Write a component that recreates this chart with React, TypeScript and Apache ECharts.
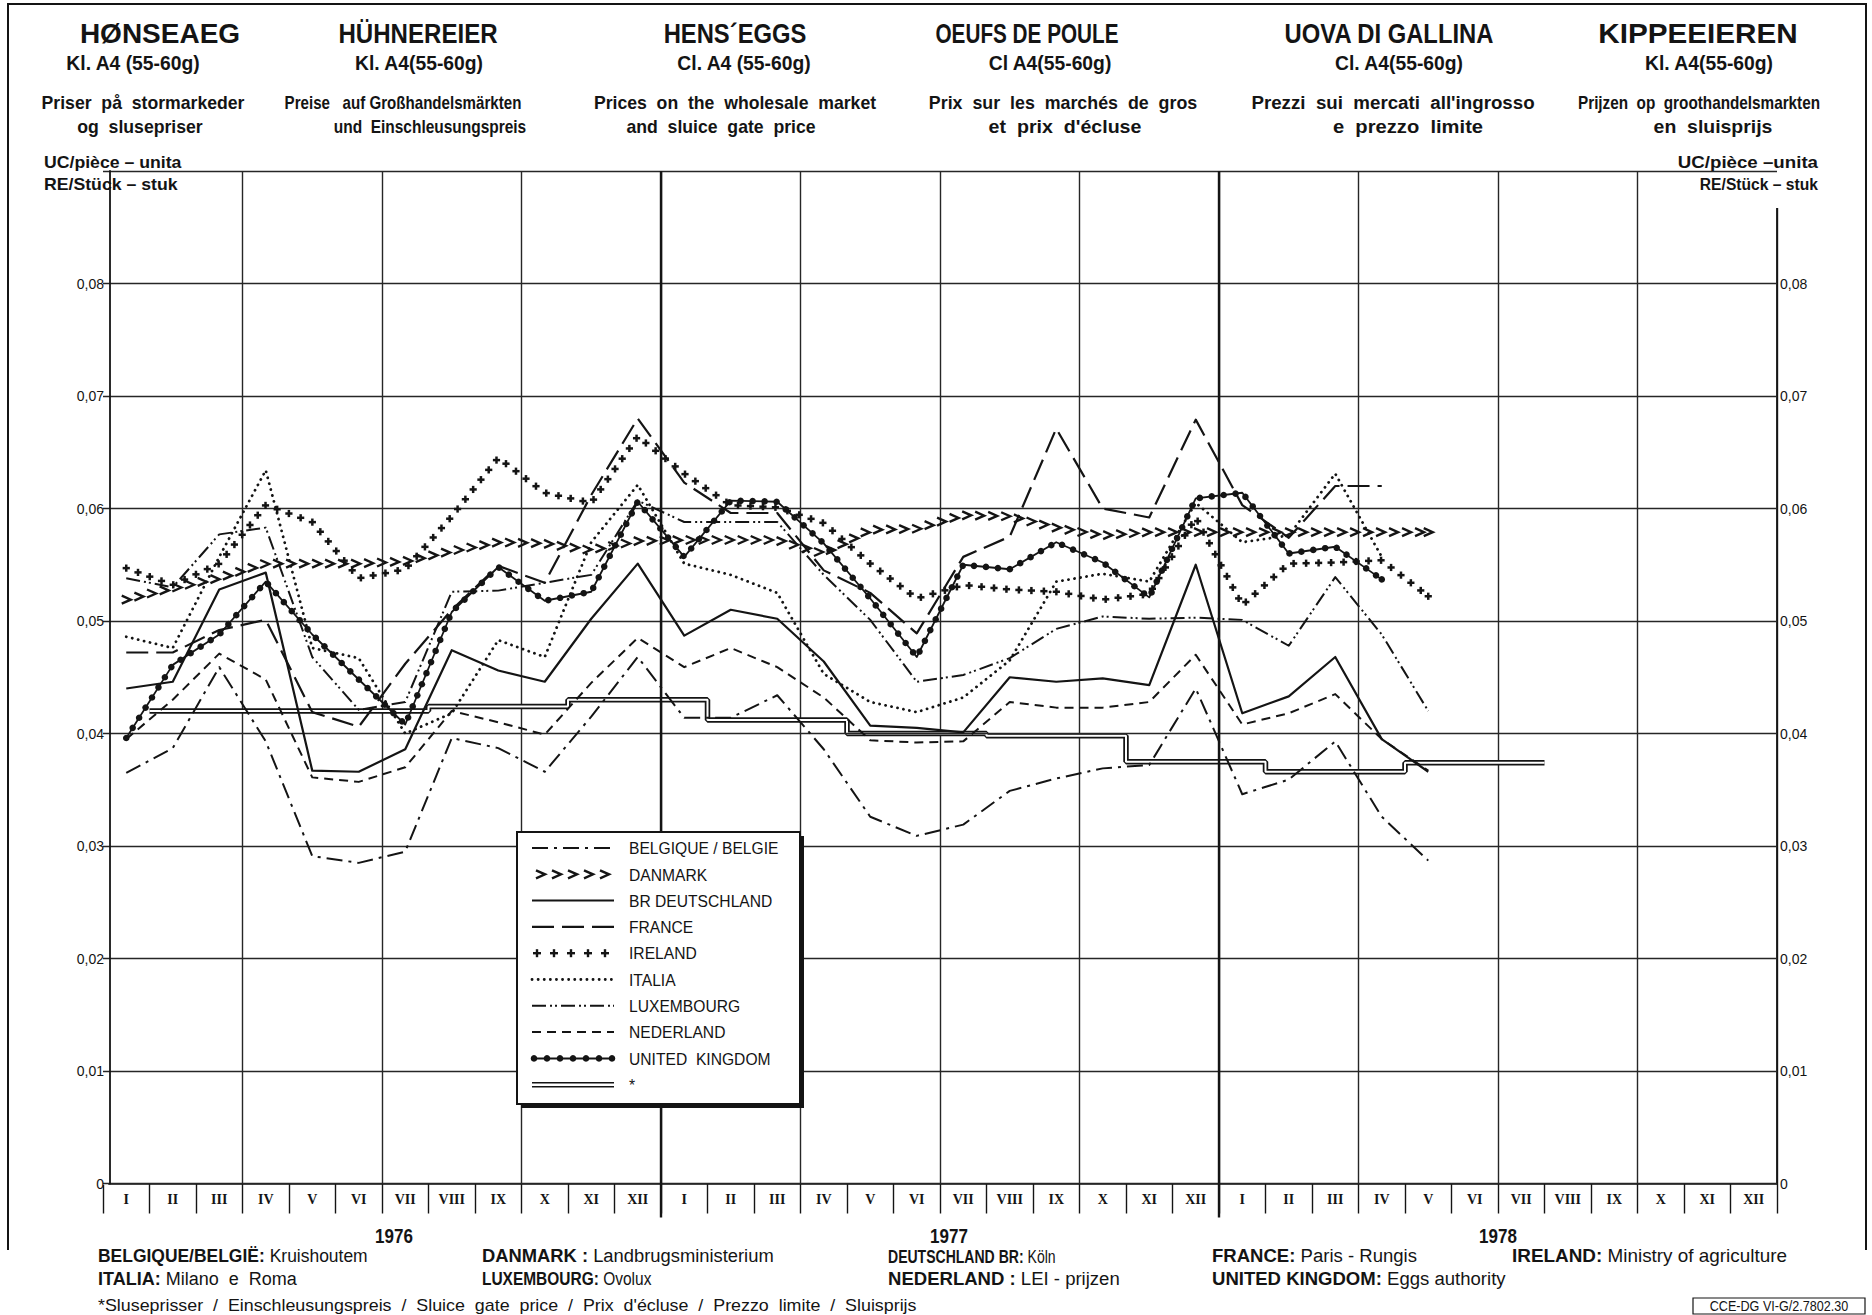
import React, { useEffect, useRef } from 'react';
import * as echarts from 'echarts';

// ---------- DATA ----------
const MONTHS = ['I', 'II', 'III', 'IV', 'V', 'VI', 'VII', 'VIII', 'IX', 'X', 'XI', 'XII'];
const CATEGORIES = [...MONTHS, ...MONTHS, ...MONTHS]; // 1976, 1977, 1978
const YEARS = ['1976', '1977', '1978'];

// monthly prices, UC per egg, from 1976-I
const BELGIQUE = [0.0365, 0.0387, 0.0459, 0.0393, 0.0291, 0.0285, 0.0295, 0.0396, 0.0387, 0.0366, 0.0415, 0.0468,
  0.0414, 0.0414, 0.0434, 0.0386, 0.0326, 0.0309, 0.0319, 0.0349, 0.036, 0.0369, 0.0372, 0.044,
  0.0346, 0.0359, 0.0393, 0.0326, 0.0287];
const DANMARK = [0.0519, 0.0529, 0.0538, 0.0551, 0.0551, 0.0551, 0.0553, 0.0562, 0.057, 0.0569, 0.0563, 0.0571,
  0.0572, 0.0572, 0.0572, 0.056, 0.0581, 0.0582, 0.0594, 0.0593, 0.0583, 0.0576, 0.0579, 0.0579,
  0.0579, 0.0579, 0.0579, 0.0579, 0.0579];
const DEUTSCHLAND = [0.044, 0.0446, 0.0528, 0.0543, 0.0367, 0.0366, 0.0386, 0.0474, 0.0456, 0.0446, 0.0502, 0.0551,
  0.0487, 0.051, 0.0502, 0.0464, 0.0407, 0.0405, 0.0401, 0.045, 0.0446, 0.0449, 0.0443, 0.055,
  0.0418, 0.0433, 0.0468, 0.0395, 0.0366];
const FRANCE = [0.0472, 0.0472, 0.0492, 0.0501, 0.0419, 0.0406, 0.0462, 0.051, 0.0549, 0.0534, 0.0612, 0.068,
  0.0623, 0.0596, 0.0596, 0.0545, 0.0525, 0.0489, 0.0557, 0.0575, 0.0671, 0.06, 0.0592, 0.0679,
  0.0603, 0.0574, 0.062, 0.062];
const IRELAND = [0.0547, 0.0532, 0.0551, 0.0603, 0.0588, 0.0538, 0.0546, 0.0593, 0.0645, 0.0614, 0.0605, 0.0664,
  0.0631, 0.0603, 0.0601, 0.0587, 0.0551, 0.052, 0.0532, 0.0528, 0.0526, 0.0519, 0.0524, 0.0592,
  0.0514, 0.0551, 0.0552, 0.0554, 0.0522];
const ITALIA = [0.0486, 0.0476, 0.0557, 0.0634, 0.0476, 0.0467, 0.040, 0.0418, 0.0483, 0.0468, 0.057, 0.0621,
  0.0551, 0.0541, 0.0525, 0.0453, 0.0428, 0.0419, 0.0432, 0.0465, 0.0535, 0.0542, 0.0535, 0.0605,
  0.057, 0.0576, 0.0631, 0.0557];
const LUXEMBOURG = [0.0538, 0.053, 0.0577, 0.0583, 0.0468, 0.0421, 0.0428, 0.0526, 0.0527, 0.0534, 0.0541, 0.0607,
  0.0588, 0.0588, 0.0588, 0.0541, 0.0501, 0.0446, 0.0452, 0.0467, 0.0493, 0.0504, 0.0502, 0.0503,
  0.0501, 0.0478, 0.0539, 0.0488, 0.042];
const NEDERLAND = [0.0395, 0.043, 0.0471, 0.0448, 0.0361, 0.0357, 0.037, 0.042, 0.041, 0.0399, 0.0445, 0.0485,
  0.0459, 0.0476, 0.0459, 0.0432, 0.0394, 0.0392, 0.0393, 0.0428, 0.0423, 0.0423, 0.0428, 0.047,
  0.0408, 0.0418, 0.0435, 0.0395, 0.0367];
const UNITED_KINGDOM = [0.0396, 0.0461, 0.0488, 0.0535, 0.0488, 0.0448, 0.0408, 0.0508, 0.0548, 0.0518, 0.0526, 0.0606,
  0.0557, 0.0607, 0.0606, 0.0569, 0.052, 0.0468, 0.055, 0.0546, 0.057, 0.0552, 0.0521, 0.0609,
  0.0614, 0.056, 0.0566, 0.0537];
// sluice gate price: [month boundary index from 1976-I start, level]
const SLUICE_STEPS: [number, number][] = [[1, 0.042], [7, 0.0424], [10, 0.043], [13, 0.0412], [16, 0.04], [19, 0.0398],
  [22, 0.0375], [25, 0.0366], [28, 0.0374], [31, 0.0374]];
const YEAR_BOUNDARIES = [12, 24];

const TITLES = ['HØNSEAEG', 'HÜHNEREIER', 'HENS´EGGS', 'OEUFS DE POULE', 'UOVA DI GALLINA', 'KIPPEEIEREN'];
const SUBTITLES = ['Kl. A4 (55-60g)', 'Kl. A4(55-60g)', 'Cl. A4 (55-60g)', 'Cl A4(55-60g)', 'Cl. A4(55-60g)', 'Kl. A4(55-60g)'];
const DESC1 = ['Priser  på  stormarkeder', 'Preise   auf Großhandelsmärkten', 'Prices  on  the  wholesale  market', 'Prix  sur  les  marchés  de  gros', 'Prezzi  sui  mercati  all\'ingrosso', 'Prijzen  op  groothandelsmarkten'];
const DESC2 = ['og  slusepriser', 'und  Einschleusungspreis', 'and  sluice  gate  price', 'et  prix  d\'écluse', 'e  prezzo  limite', 'en  sluisprijs'];

const LEGEND_NAMES = ['BELGIQUE / BELGIE', 'DANMARK', 'BR DEUTSCHLAND', 'FRANCE', 'IRELAND', 'ITALIA', 'LUXEMBOURG', 'NEDERLAND', 'UNITED  KINGDOM', '*'];

const SOURCES_ROW1: [string, string][] = [['BELGIQUE/BELGIË:', ' Kruishoutem'], ['DANMARK :', ' Landbrugsministerium'], ['DEUTSCHLAND BR:', ' Köln'], ['FRANCE:', ' Paris - Rungis'], ['IRELAND:', ' Ministry of agriculture']];
const SOURCES_ROW2: [string, string][] = [['ITALIA:', ' Milano  e  Roma'], ['LUXEMBOURG:', ' Ovolux'], ['NEDERLAND :', ' LEI - prijzen'], ['UNITED KINGDOM:', ' Eggs authority']];
const FOOTNOTE = '*Sluseprisser  /  Einschleusungspreis  /  Sluice  gate  price  /  Prix  d\'écluse  /  Prezzo  limite  /  Sluisprijs';
const CODE = 'CCE-DG VI-G/2.7802.30';

// ---------- STYLE ----------
const INK = '#141414';
const SANS = "'Liberation Sans', Arial, sans-serif";

const X = (i: number) => i + 0.5;
const pairs = (vals: number[]) => vals.map((v, i) => [X(i), v]);

function lineSeries(name: string, vals: number[], type: any, width = 2, cap = 'butt') {
  return {
    name, type: 'line', xAxisIndex: 1, yAxisIndex: 0, data: pairs(vals), symbol: 'none', z: 3,
    lineStyle: { color: INK, width, type, cap, join: 'round' }, silent: true,
  };
}

function makeMarker(kind: string, x: number, y: number) {
  if (kind === 'chevron') {
    return { type: 'polyline', shape: { points: [[x - 4.5, y - 4], [x + 4.5, y], [x - 4.5, y + 4]] }, style: { stroke: INK, lineWidth: 2.4, fill: null } };
  }
  if (kind === 'cross') {
    return {
      type: 'group', children: [
        { type: 'line', shape: { x1: x - 3.6, y1: y, x2: x + 3.6, y2: y }, style: { stroke: INK, lineWidth: 2.5 } },
        { type: 'line', shape: { x1: x, y1: y - 3.6, x2: x, y2: y + 3.6 }, style: { stroke: INK, lineWidth: 2.5 } },
      ],
    };
  }
  return { type: 'circle', shape: { cx: x, cy: y, r: 3.3 }, style: { fill: INK } };
}

function markerSeries(name: string, vals: number[], kind: string, spacing: number) {
  return {
    name, type: 'custom', xAxisIndex: 1, yAxisIndex: 0, z: 4, silent: true,
    encode: { x: 0, y: 1 },
    data: pairs(vals),
    renderItem: (params: any, api: any) => {
      const i = params.dataIndex;
      const pts = vals.map((v, j) => api.coord([X(j), v]));
      const cum = [0];
      for (let j = 1; j < pts.length; j++) {
        cum.push(cum[j - 1] + Math.hypot(pts[j][0] - pts[j - 1][0], pts[j][1] - pts[j - 1][1]));
      }
      const children: any[] = [];
      const n = pts.length;
      if (i < n - 1) {
        const a = pts[i], b = pts[i + 1];
        const L = cum[i + 1] - cum[i];
        const ux = L > 0 ? (b[0] - a[0]) / L : 1;
        const uy = L > 0 ? (b[1] - a[1]) / L : 0;
        for (let k = Math.ceil(cum[i] / spacing - 1e-9); k * spacing < cum[i + 1] - 1e-6; k++) {
          const d = k * spacing - cum[i];
          children.push(makeMarker(kind, a[0] + ux * d, a[1] + uy * d));
        }
      } else {
        children.push(makeMarker(kind, pts[i][0], pts[i][1]));
      }
      return { type: 'group', children };
    },
  };
}

function txt(text: string, x: number, y: number, font: string, align = 'center', sx = 1, z = 120) {
  return {
    type: 'text', x, y, scaleX: sx, z,
    style: { text, font, fill: INK, textAlign: align, align, textVerticalAlign: 'middle', verticalAlign: 'middle' },
  };
}

function richTxt(bold: string, normal: string, x: number, y: number, size: number, sx = 1) {
  return {
    type: 'text', x, y, scaleX: sx, z: 120,
    style: {
      text: `{b|${bold}}{n|${normal}}`, fill: INK, textAlign: 'left', align: 'left', textVerticalAlign: 'middle', verticalAlign: 'middle',
      rich: {
        b: { font: `bold ${size}px ${SANS}`, fill: INK },
        n: { font: `${size}px ${SANS}`, fill: INK },
      },
    },
  };
}

function buildGraphic() {
  const g: any[] = [];
  // outer frame
  g.push({ type: 'polyline', z: 110, shape: { points: [[8, 1250], [8, 4], [1866, 4], [1866, 1250]] }, style: { stroke: INK, lineWidth: 2, fill: null } });
  // white masks: top corners of the frame, and the strip left of the shifted value axis
  g.push({ type: 'rect', z: 1, shape: { x: 20, y: 150, width: 182, height: 58 }, style: { fill: '#fff' } });
  g.push({ type: 'rect', z: 1, shape: { x: 1664, y: 150, width: 140, height: 58 }, style: { fill: '#fff' } });
  g.push({ type: 'rect', z: 1, shape: { x: 98, y: 165, width: 10.2, height: 1020 }, style: { fill: '#fff' } });

  const tx = [160, 418, 735, 1027, 1389, 1698];
  const tsx = [1.0, 0.86, 0.85, 0.74, 0.85, 1.06];
  const sx = [133, 419, 744, 1050, 1399, 1709];
  const d1x = [143, 403, 735, 1063, 1393, 1699];
  const d1s = [0.98, 0.84, 0.98, 0.99, 1.04, 0.85];
  const d2x = [140, 430, 721, 1065, 1408, 1713];
  const d2s = [0.98, 0.86, 0.98, 1.09, 1.12, 1.08];
  TITLES.forEach((t, i) => g.push(txt(t, tx[i], 33, `bold 28px ${SANS}`, 'center', tsx[i])));
  SUBTITLES.forEach((t, i) => g.push(txt(t, sx[i], 63, `bold 21px ${SANS}`, 'center', 0.92)));
  DESC1.forEach((t, i) => g.push(txt(t, d1x[i], 103, `bold 18px ${SANS}`, 'center', d1s[i])));
  DESC2.forEach((t, i) => g.push(txt(t, d2x[i], 127, `bold 18px ${SANS}`, 'center', d2s[i])));

  // unit labels
  g.push(txt('UC/pièce – unita', 44, 162, `bold 17px ${SANS}`, 'left', 1.04));
  g.push(txt('RE/Stück – stuk', 44, 184, `bold 17px ${SANS}`, 'left', 1.04));
  g.push(txt('UC/pièce –unita', 1818, 162, `bold 17px ${SANS}`, 'right', 1.1));
  g.push(txt('RE/Stück – stuk', 1818, 184, `bold 17px ${SANS}`, 'right', 0.92));

  // years
  const yx = [394, 949, 1498];
  YEARS.forEach((y, i) => g.push(txt(y, yx[i], 1236, `bold 20px ${SANS}`, 'center', 0.85)));

  // sources
  const r1x = [98, 482, 888, 1212, 1512];
  const r1s = [0.97, 1.02, 0.78, 1.03, 1.05];
  SOURCES_ROW1.forEach(([b, n], i) => g.push(richTxt(b, n, r1x[i], 1256, 18, r1s[i])));
  const r2x = [98, 482, 888, 1212];
  const r2s = [1.0, 0.86, 1.03, 1.03];
  SOURCES_ROW2.forEach(([b, n], i) => g.push(richTxt(b, n, r2x[i], 1279, 18, r2s[i])));
  g.push(txt(FOOTNOTE, 98, 1305, `17px ${SANS}`, 'left', 1.05));
  g.push({ type: 'rect', z: 110, shape: { x: 1693, y: 1298, width: 172, height: 16 }, style: { fill: '#fff', stroke: INK, lineWidth: 1.2 } });
  g.push(txt(CODE, 1779, 1306.5, `14px ${SANS}`, 'center', 0.9));

  // legend box
  const LX = 517, LY = 832, LW = 283, LH = 272;
  g.push({ type: 'rect', z: 118, shape: { x: LX + 4, y: LY + 4, width: LW, height: LH }, style: { fill: INK } });
  g.push({ type: 'rect', z: 119, shape: { x: LX, y: LY, width: LW, height: LH }, style: { fill: '#fff', stroke: INK, lineWidth: 2 } });
  const sx0 = 532, sx1 = 614, lx = 629;
  LEGEND_NAMES.forEach((name, k) => {
    const y = 848 + k * 26.3;
    g.push(txt(name, lx, y, `17px ${SANS}`, 'left', 0.92));
    const ln = (dash: any, w = 2, cap = 'butt') => ({ type: 'line', z: 121, shape: { x1: sx0, y1: y, x2: sx1, y2: y }, style: { stroke: INK, lineWidth: w, lineDash: dash, lineCap: cap } });
    switch (k) {
      case 0: g.push(ln([16, 6, 3, 6])); break;
      case 1: for (let j = 0; j < 5; j++) g.push({ type: 'polyline', z: 121, shape: { points: [[sx0 + 4 + j * 16, y - 4], [sx0 + 13 + j * 16, y], [sx0 + 4 + j * 16, y + 4]] }, style: { stroke: INK, lineWidth: 2.4, fill: null } }); break;
      case 2: g.push(ln(null)); break;
      case 3: g.push(ln([22, 8], 2.2)); break;
      case 4: for (let j = 0; j < 5; j++) { const cx = sx0 + 5 + j * 17; g.push({ type: 'line', z: 121, shape: { x1: cx - 4, y1: y, x2: cx + 4, y2: y }, style: { stroke: INK, lineWidth: 2.4 } }); g.push({ type: 'line', z: 121, shape: { x1: cx, y1: y - 4, x2: cx, y2: y + 4 }, style: { stroke: INK, lineWidth: 2.4 } }); } break;
      case 5: g.push(ln([0.1, 6], 2.8, 'round')); break;
      case 6: g.push(ln([14, 4, 2, 3, 2, 4])); break;
      case 7: g.push(ln([9, 6])); break;
      case 8: g.push(ln(null)); for (let j = 0; j < 7; j++) g.push({ type: 'circle', z: 122, shape: { cx: sx0 + 2 + j * 13, cy: y, r: 3.3 }, style: { fill: INK } }); break;
      case 9:
        g.push({ type: 'line', z: 121, shape: { x1: sx0, y1: y - 2, x2: sx1, y2: y - 2 }, style: { stroke: INK, lineWidth: 1.5 } });
        g.push({ type: 'line', z: 121, shape: { x1: sx0, y1: y + 2, x2: sx1, y2: y + 2 }, style: { stroke: INK, lineWidth: 1.5 } });
        break;
    }
  });
  return g;
}

const yLabel = (v: number) => {
  const k = Math.round(v * 100);
  if (k === 0) return '0';
  if (k >= 9) return '';
  return '0,0' + k;
};

export default function App() {
  const ref = useRef<HTMLDivElement>(null);
  useEffect(() => {
    if (!ref.current) return;
    const chart = echarts.init(ref.current, undefined, { renderer: 'svg' });
    const gridLine = { color: '#262626', width: 1.4 };
    const sluiceData = SLUICE_STEPS.map(([x, v]) => [x, v]);
    const graphic = buildGraphic();
    const option: any = {
      animation: false,
      backgroundColor: '#ffffff',
      grid: { left: 103, right: 95, top: 171, bottom: 131.5, containLabel: false },
      xAxis: [
        {
          type: 'category', data: CATEGORIES, boundaryGap: true, position: 'bottom',
          axisLine: { show: true, lineStyle: { color: INK, width: 1.6 } },
          axisTick: { show: true, interval: 0, length: 30, inside: false, lineStyle: { color: INK, width: 1.4 } },
          axisLabel: { interval: 0, margin: 9, color: INK, fontFamily: "'Liberation Serif', 'DejaVu Serif', serif", fontWeight: 'bold', fontSize: 14 },
          splitLine: { show: false },
        },
        {
          type: 'value', min: 0, max: 36, interval: 3, position: 'top',
          axisLine: { show: false }, axisTick: { show: false }, axisLabel: { show: false },
          splitLine: { show: true, lineStyle: gridLine },
        },
      ],
      yAxis: [
        {
          type: 'value', min: 0, max: 0.09, interval: 0.01, position: 'left', offset: -7, z: 3,
          axisLine: { show: true, lineStyle: { color: INK, width: 1.8 } },
          axisTick: { show: false },
          axisLabel: { formatter: yLabel, margin: 6, color: INK, fontFamily: SANS, fontSize: 14 },
          splitLine: { show: true, lineStyle: gridLine },
        },
        {
          type: 'value', min: 0, max: 0.09, interval: 0.01, position: 'right',
          axisLine: { show: true, lineStyle: { color: INK, width: 1.8 } },
          axisTick: { show: false },
          axisLabel: { formatter: yLabel, margin: 3, color: INK, fontFamily: SANS, fontSize: 14 },
          splitLine: { show: false },
        },
      ],
      series: [
        {
          name: 'sluice', type: 'line', xAxisIndex: 1, yAxisIndex: 0, step: 'end', data: sluiceData, symbol: 'none', z: 2,
          lineStyle: { color: INK, width: 5.5 }, silent: true,
          markLine: {
            silent: true, symbol: 'none', label: { show: false },
            lineStyle: { color: INK, width: 2.4, type: 'solid' },
            data: YEAR_BOUNDARIES.map((b) => ({ xAxis: b })),
          },
        },
        {
          name: 'sluice-inner', type: 'line', xAxisIndex: 1, yAxisIndex: 0, step: 'end', data: sluiceData, symbol: 'none', z: 2.5,
          lineStyle: { color: '#ffffff', width: 2 }, silent: true,
        },
        lineSeries('BELGIQUE / BELGIE', BELGIQUE, [16, 6, 3, 6]),
        lineSeries('BR DEUTSCHLAND', DEUTSCHLAND, 'solid', 2.2),
        lineSeries('FRANCE', FRANCE, [22, 8], 2.2),
        lineSeries('ITALIA', ITALIA, [0.1, 6], 2.8, 'round'),
        lineSeries('LUXEMBOURG', LUXEMBOURG, [14, 4, 2, 3, 2, 4]),
        lineSeries('NEDERLAND', NEDERLAND, [9, 6]),
        lineSeries('UNITED KINGDOM', UNITED_KINGDOM, 'solid', 1.8),
        markerSeries('UNITED KINGDOM dots', UNITED_KINGDOM, 'dot', 12),
        markerSeries('DANMARK', DANMARK, 'chevron', 13),
        markerSeries('IRELAND', IRELAND, 'cross', 12.5),
      ],
      graphic,
    };
    chart.setOption(option);
    // extend the year-boundary lines through the month-label row
    const base = chart.convertToPixel({ yAxisIndex: 0 }, 0) as number;
    const ext = YEAR_BOUNDARIES.map((b) => {
      const x = chart.convertToPixel({ xAxisIndex: 1 }, b) as number;
      return { type: 'line', z: 5, shape: { x1: x, y1: base, x2: x, y2: base + 34 }, style: { stroke: INK, lineWidth: 2.4 } };
    });
    chart.setOption({ graphic: [...graphic, ...ext] });
    return () => chart.dispose();
  }, []);
  return <div ref={ref} style={{ position: 'fixed', left: 0, top: 0, width: 1872, height: 1315, background: '#fff' }} />;
}
